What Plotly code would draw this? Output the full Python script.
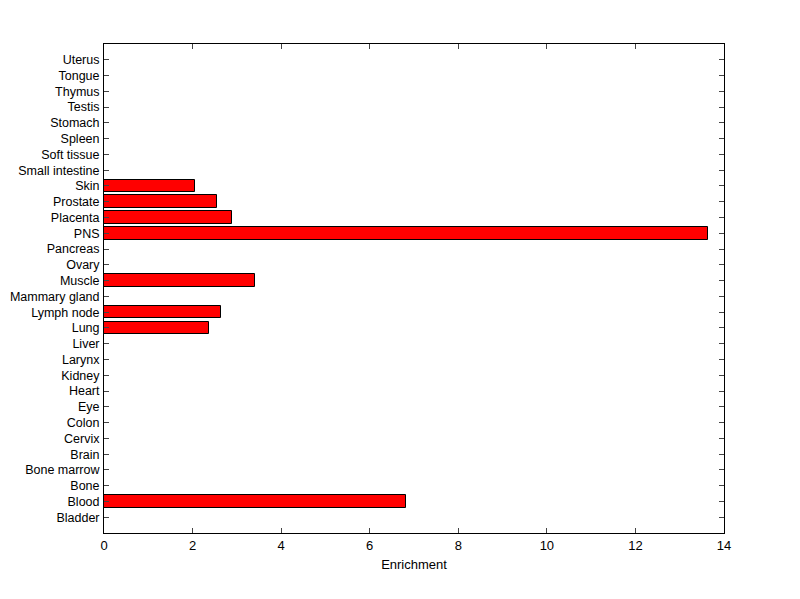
import plotly.graph_objects as go

tissues = ["Bladder", "Blood", "Bone", "Bone marrow", "Brain", "Cervix", "Colon", "Eye",
           "Heart", "Kidney", "Larynx", "Liver", "Lung", "Lymph node", "Mammary gland",
           "Muscle", "Ovary", "Pancreas", "PNS", "Placenta", "Prostate", "Skin",
           "Small intestine", "Soft tissue", "Spleen", "Stomach", "Testis", "Thymus",
           "Tongue", "Uterus"]
enrichment = [0, 6.83, 0, 0, 0, 0, 0, 0,
              0, 0, 0, 0, 2.36, 2.65, 0,
              3.42, 0, 0, 13.63, 2.88, 2.56, 2.06,
              0, 0, 0, 0, 0, 0,
              0, 0]
x_ticks = [0, 2, 4, 6, 8, 10, 12, 14]

positions = list(range(len(tissues)))

fig = go.Figure(go.Bar(
    x=enrichment, y=positions, orientation="h", width=0.8,
    marker=dict(color="#ff0000", line=dict(color="black", width=1)),
))

font = dict(family="Liberation Sans, Arial, sans-serif", size=13, color="black")
tickfont = dict(family="Liberation Sans, Arial, sans-serif", size=12.5, color="black")
fig.update_layout(
    width=792, height=591,
    margin=dict(l=96, r=76, t=36, b=66),
    paper_bgcolor="white", plot_bgcolor="white",
    font=font, showlegend=False, bargap=0,
    xaxis=dict(range=[0, 14], tickvals=x_ticks, ticks="inside", ticklen=5,
               showline=True, linecolor="black", linewidth=1, mirror="ticks",
               showgrid=False, zeroline=False, automargin=False, tickfont=font,
               title=dict(text="Enrichment", font=font, standoff=8)),
    yaxis=dict(range=[-1, len(tissues)], tickvals=positions, ticktext=tissues,
               ticks="inside", ticklen=5, showline=True, linecolor="black", linewidth=1,
               mirror="ticks", showgrid=False, zeroline=False, automargin=False,
               ticklabelstandoff=1, tickfont=tickfont),
)

fig.write_html("out.html")
